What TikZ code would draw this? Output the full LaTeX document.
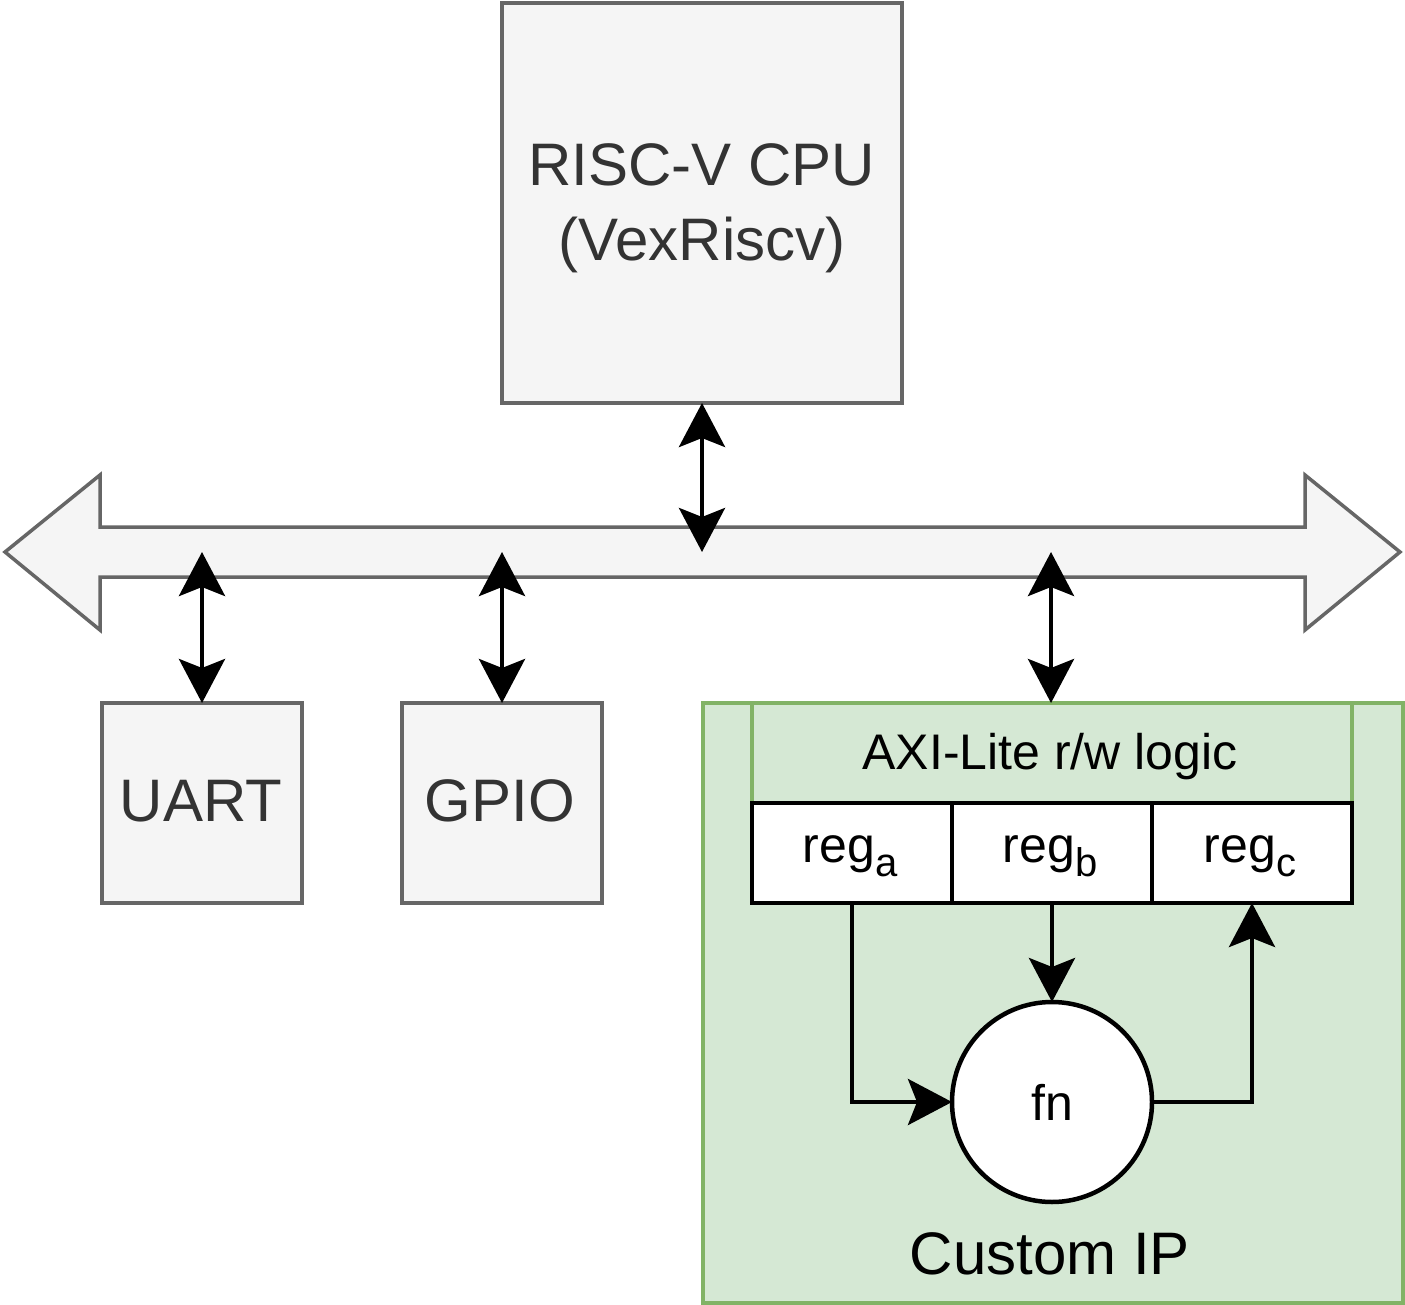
\documentclass[tikz,border=0pt]{standalone}
\usepackage{fontspec}
\setmainfont{Liberation Sans}
\usetikzlibrary{arrows.meta}
\definecolor{gfill}{HTML}{F5F5F5}
\definecolor{gline}{HTML}{666666}
\definecolor{gtext}{HTML}{333333}
\definecolor{grfill}{HTML}{D5E8D4}
\definecolor{grline}{HTML}{82B366}
\newcommand{\mysub}[1]{\raisebox{-0.28em}{\fontsize{40}{40}\selectfont #1}}
\tikzset{
  graybox/.style={draw=gline, fill=gfill, line width=3.5pt, text=gtext, inner sep=0pt, outer sep=0pt, align=center, font=\fontsize{60}{75}\selectfont},
  greenbox/.style={draw=grline, fill=grfill, line width=3.5pt, inner sep=0pt, outer sep=0pt},
  regbox/.style={draw=black, fill=white, line width=4.5pt, inner sep=0pt, outer sep=0pt, minimum width=200pt, minimum height=100pt, font=\fontsize{50}{60}\selectfont},
  tip/.tip={Stealth[length=44pt, width=46pt, inset=9pt]},
  conn/.style={draw=black, line width=4.5pt},
  biarrow/.style={conn, tip-tip},
  onearrow/.style={conn, -tip},
}
\begin{document}
\begin{tikzpicture}[x=1pt, y=-1pt]
\useasboundingbox (0,0) rectangle (1405,1305);
% bus
\draw[draw=gline, fill=gfill, line width=3.5pt, line join=miter]
  (5,552) -- (100,475) -- (100,527) -- (1305,527) -- (1305,475) -- (1400,552)
  -- (1305,630) -- (1305,577) -- (100,577) -- (100,630) -- cycle;
\coordinate (busc) at (702,552);
\coordinate (busu) at (202,552);
\coordinate (busg) at (502,552);
\coordinate (busi) at (1051,552);
% CPU
\node[graybox, minimum width=400pt, minimum height=400pt] (cpu) at (702,203) {};
\node[text=gtext, align=center, inner sep=0pt, font=\fontsize{60}{75}\selectfont] (cputext) at (702,208) {RISC-V CPU\\(VexRiscv)};
% UART, GPIO
\node[graybox, minimum width=200pt, minimum height=200pt] (uart) at (202,803) {};
\node[text=gtext, inner sep=0pt, font=\fontsize{60}{75}\selectfont] (uarttext) at (201,801) {UART};
\node[graybox, minimum width=200pt, minimum height=200pt] (gpio) at (502,803) {};
\node[text=gtext, inner sep=0pt, font=\fontsize{60}{75}\selectfont] (gpiotext) at (500,801) {GPIO};
% custom IP
\node[greenbox, minimum width=700pt, minimum height=600pt] (ip) at (1053,1003) {};
\node[font=\fontsize{60}{72}\selectfont, inner sep=0pt] (iplabel) at (1050,1254) {Custom IP};
\node[greenbox, minimum width=600pt, minimum height=100pt] (axi) at (1052,753) {};
\node[font=\fontsize{50}{60}\selectfont, inner sep=0pt] (axitext) at (1050,757) {AXI-Lite r/w logic};
\node[regbox] (rega) at (852,853) {};
\node[regbox] (regb) at (1052,853) {};
\node[regbox] (regc) at (1252,853) {};
\node[font=\fontsize{50}{60}\selectfont, inner sep=0pt] (regatext) at (850,856) {reg\mysub{a}};
\node[font=\fontsize{50}{60}\selectfont, inner sep=0pt] (regbtext) at (1050,856) {reg\mysub{b}};
\node[font=\fontsize{50}{60}\selectfont, inner sep=0pt] (regctext) at (1250,856) {reg\mysub{c}};
\node[circle, draw=black, fill=white, line width=4.5pt, minimum size=200pt, inner sep=0pt, outer sep=0pt, font=\fontsize{50}{60}\selectfont] (fn) at (1052,1102) {fn};
% connectors
\draw[biarrow] (cpu.south) -- (busc);
\draw[biarrow] (busu) -- (uart.north);
\draw[biarrow] (busg) -- (gpio.north);
\draw[biarrow] (busi) -- (ip.north -| busi);
\draw[onearrow] (rega.south) |- (fn.west);
\draw[onearrow] (regb.south) -- (fn.north);
\draw[onearrow] (fn.east) -| (regc.south);
\end{tikzpicture}
\end{document}
